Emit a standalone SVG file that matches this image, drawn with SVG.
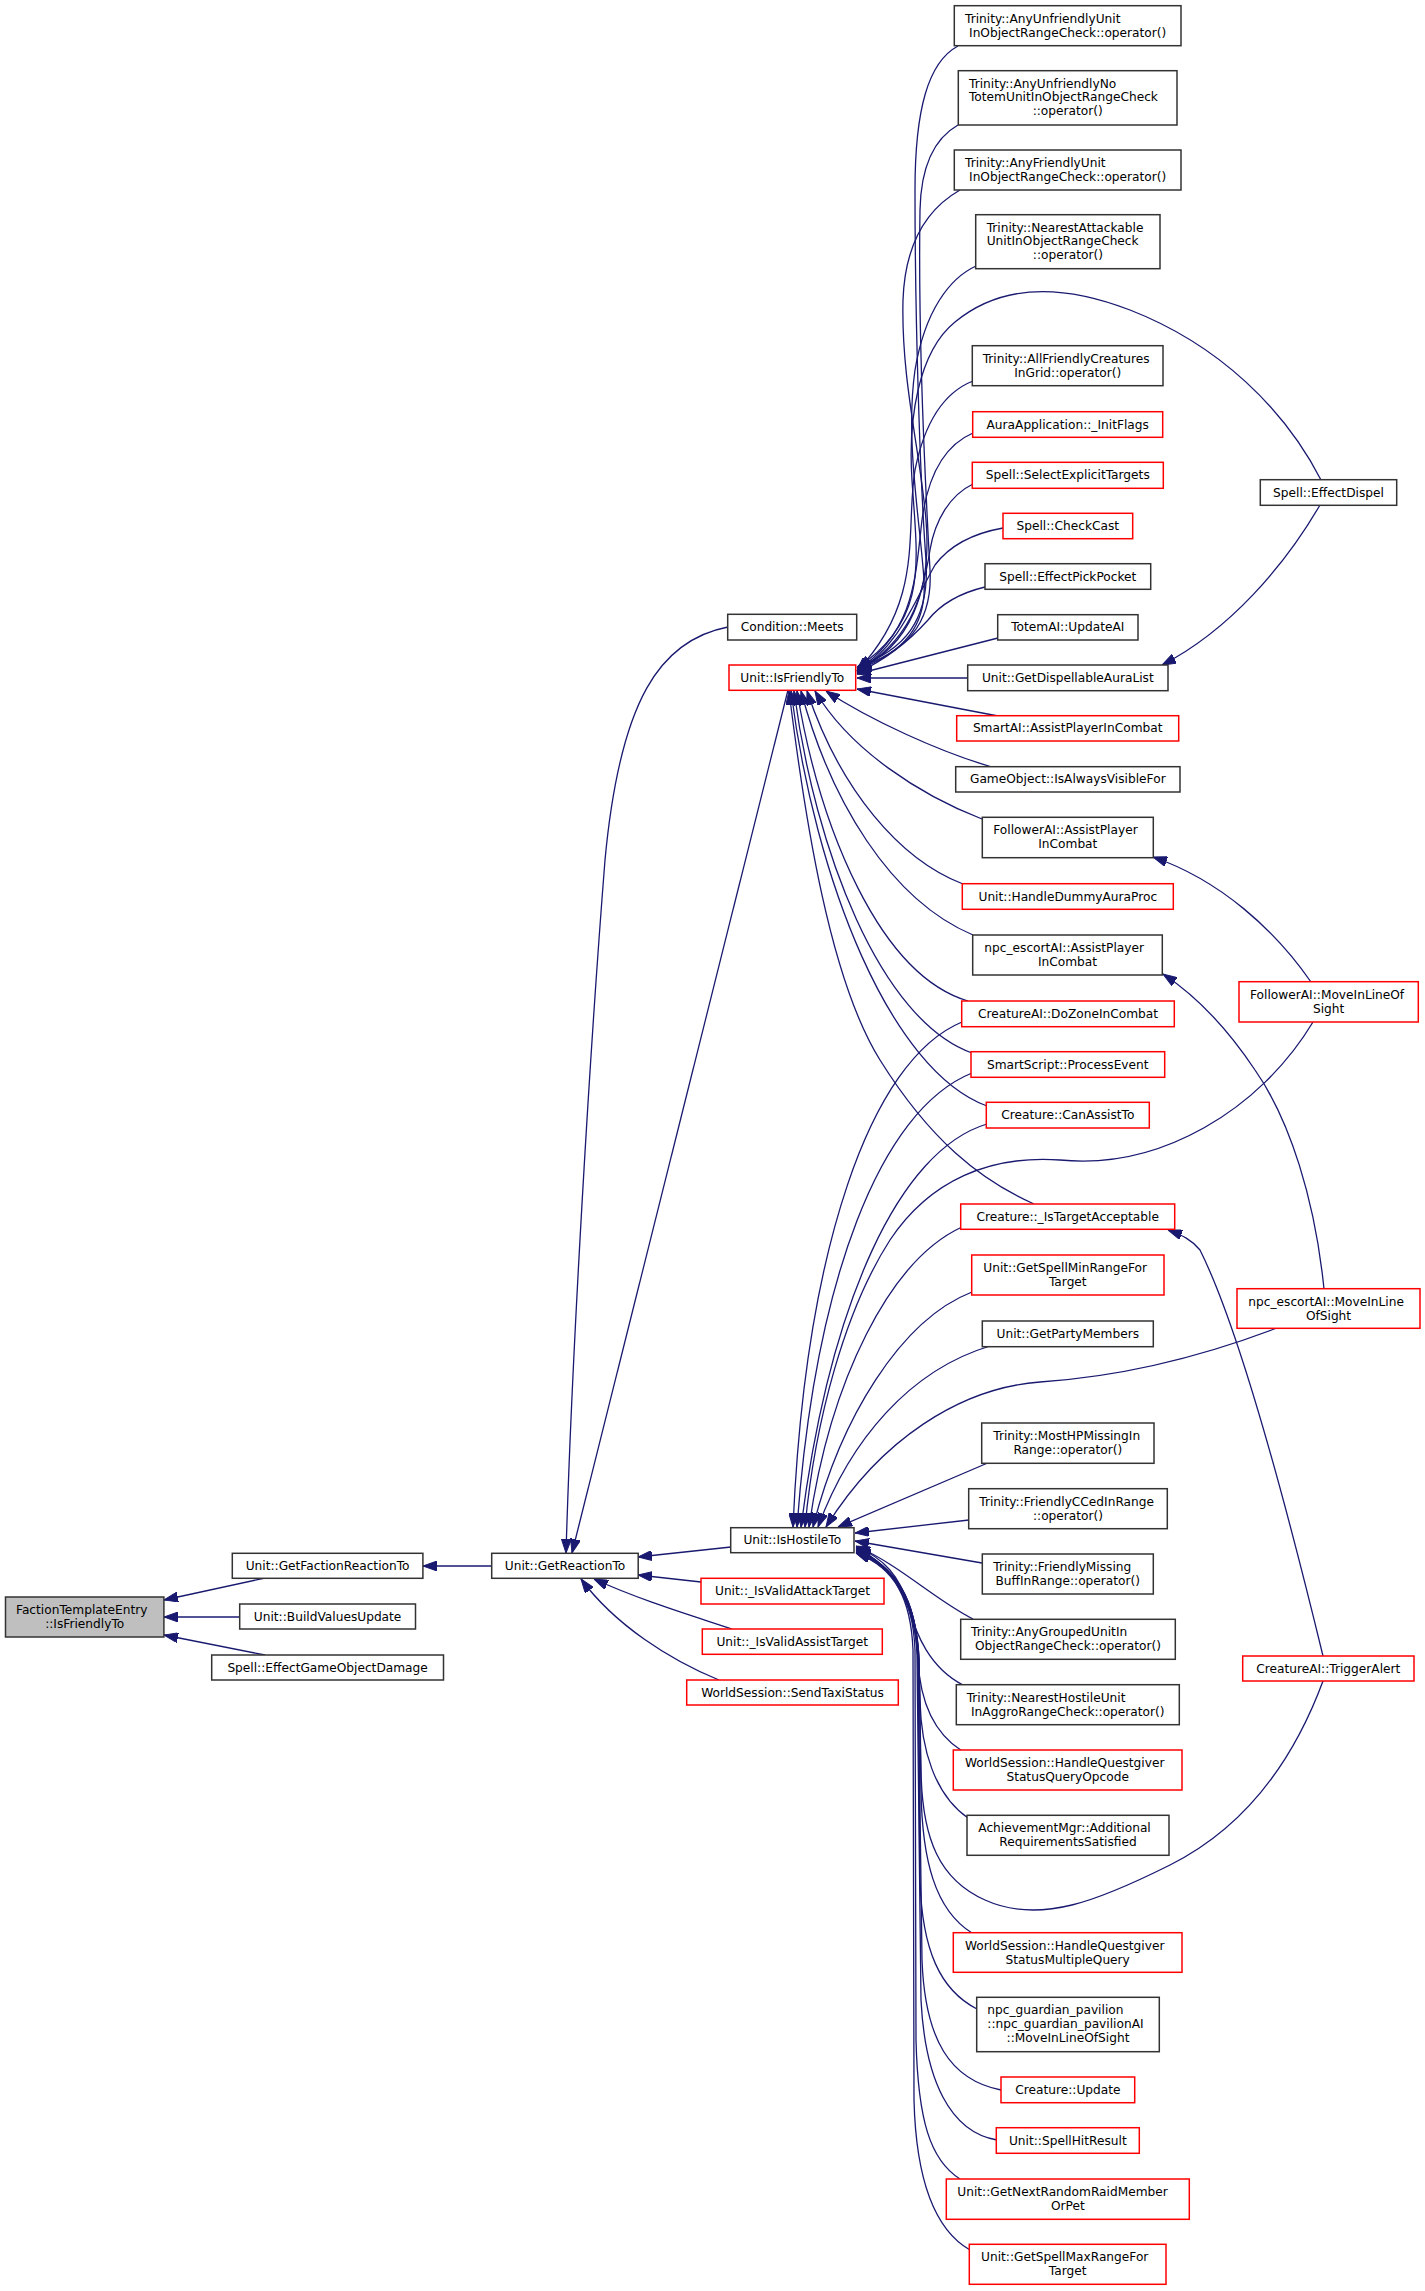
<svg xmlns="http://www.w3.org/2000/svg" width="1425" height="2291" viewBox="0 0 1425 2291">
<defs>
<marker id="ah" markerUnits="userSpaceOnUse" markerWidth="14" markerHeight="10" viewBox="0 0 14 10" refX="14" refY="5" orient="auto">
<path d="M0,0 L14,5 L0,10 z" fill="#191970" stroke="#191970" stroke-width="1"/>
</marker>
</defs>
<style>
rect.n{fill:#fff;stroke:#333;stroke-width:1.5}
rect.r{fill:#fff;stroke:#f00;stroke-width:1.5}
rect.m{fill:#bfbfbf;stroke:#333;stroke-width:1.5}
text{font-family:"DejaVu Sans",sans-serif;font-size:12.2px;fill:#000}
text.c{text-anchor:middle}
#edges path{fill:none;stroke:#191970;stroke-width:1.3;marker-end:url(#ah)}
</style>
<rect x="0" y="0" width="1425" height="2291" fill="#fff"/>
<g id="edges">
<path d="M265,1578 L164,1600"/>
<path d="M240,1617 L164,1617"/>
<path d="M265,1655 L164,1635"/>
<path d="M492,1566 L423,1566"/>
<path d="M731,1547 L638,1557"/>
<path d="M701,1582 L638,1575"/>
<path d="M732,1629 C690,1615 640,1600 594,1579"/>
<path d="M719,1680 C670,1660 615,1625 581,1579"/>
<path d="M728,627 C660,640 620,700 605,860 C590,1050 572,1350 566,1553"/>
<path d="M788,690 L572,1553"/>
<path d="M958,46 C928,62 915,110 915,190 C915,320 920,480 926,560 C930,620 905,650 857,667"/>
<path d="M958,125 C935,138 921,165 920,210 C918,330 925,480 930,570 C933,625 905,652 857,668"/>
<path d="M960,190 C925,210 905,245 903,300 C901,380 920,450 926,520 C932,590 910,648 857,669"/>
<path d="M976,266 C950,278 925,310 915,370 C905,440 920,520 924,580 C927,625 905,652 857,670"/>
<path d="M1321,480 C1285,410 1220,345 1130,310 C1060,283 1000,285 955,322 C918,352 908,420 912,480 C917,560 930,620 857,668"/>
<path d="M973,381 C945,392 925,420 915,470 C905,530 925,600 857,671"/>
<path d="M973,433 C945,445 928,475 922,520 C915,580 915,630 857,671"/>
<path d="M973,484 C950,495 935,520 930,550 C922,600 910,640 857,672"/>
<path d="M1003,528 C975,533 950,545 935,565 C915,600 900,645 857,672"/>
<path d="M985,587 C960,593 940,605 928,620 C910,640 885,660 857,673"/>
<path d="M998,638 L857,674"/>
<path d="M968,678 L857,678"/>
<path d="M998,716 L857,689"/>
<path d="M992,767 C940,752 870,720 826,691"/>
<path d="M982,819 C920,795 850,750 815,691"/>
<path d="M963,884 C900,860 840,790 807,691"/>
<path d="M973,935 C890,900 830,800 801,691"/>
<path d="M968,1001 C880,975 820,830 797,691"/>
<path d="M972,1053 C880,1020 815,850 794,691"/>
<path d="M987,1106 C890,1070 815,880 791,691"/>
<path d="M1034,1204 C980,1180 930,1140 880,1060 C830,980 805,820 789,691"/>
<path d="M1320,505 C1285,565 1230,630 1162,665"/>
<path d="M1311,982 C1275,930 1220,880 1153,857"/>
<path d="M1324,1289 C1315,1200 1290,1120 1255,1070 C1225,1025 1195,995 1163,974"/>
<path d="M1323,1656 C1290,1520 1240,1330 1200,1250 C1192,1240 1182,1235 1168,1230"/>
<path d="M962,1022 C870,1060 805,1250 793,1527"/>
<path d="M972,1073 C880,1110 815,1280 797,1527"/>
<path d="M987,1124 C900,1150 830,1300 801,1527"/>
<path d="M1313,1022 C1260,1110 1160,1170 1060,1160 C990,1155 930,1180 890,1240 C845,1310 815,1420 805,1527"/>
<path d="M962,1227 C890,1260 830,1380 809,1527"/>
<path d="M972,1292 C900,1320 840,1420 813,1527"/>
<path d="M990,1346 C910,1370 850,1440 818,1527"/>
<path d="M1277,1328 C1180,1365 1100,1378 1040,1382 C960,1388 880,1440 826,1527"/>
<path d="M990,1462 L838,1527"/>
<path d="M969,1520 L855,1533"/>
<path d="M982,1563 L855,1541"/>
<path d="M973,1619 C935,1600 900,1565 856,1546"/>
<path d="M963,1685 C930,1668 916,1635 908,1605 C900,1578 885,1558 856,1547"/>
<path d="M962,1751 C932,1732 920,1700 918,1660 C916,1610 895,1565 856,1548"/>
<path d="M968,1818 C935,1795 921,1750 920,1700 L919,1660 C917,1610 896,1565 856,1549"/>
<path d="M1323,1681 C1290,1770 1240,1830 1170,1865 C1100,1900 1040,1925 985,1900 C940,1880 922,1840 921,1770 L919,1660 C917,1605 897,1565 856,1550"/>
<path d="M972,1933 C935,1910 922,1860 921,1790 L919,1660 C917,1605 897,1566 856,1550"/>
<path d="M977,2009 C940,1990 922,1950 920,1880 L918,1655 C916,1600 897,1566 856,1551"/>
<path d="M1001,2090 C950,2080 925,2040 922,1960 L918,1655 C916,1600 897,1567 856,1552"/>
<path d="M997,2140 C950,2132 925,2080 921,2000 L917,1655 C915,1600 897,1567 856,1552"/>
<path d="M960,2179 C930,2160 918,2120 916,2040 L915,1650 C913,1600 897,1568 856,1553"/>
<path d="M970,2250 C935,2230 916,2180 914,2100 L913,1650 C911,1600 896,1568 856,1553"/>
</g>
<g id="n0"><rect class="m" x="5.5" y="1597" width="158.4" height="40"/><text x="16" y="1614">FactionTemplateEntry</text><text class="c" x="84.7" y="1628">::IsFriendlyTo</text></g>
<g id="n1"><rect class="n" x="232.3" y="1553.3" width="190.6" height="25"/><text class="c" x="327.6" y="1570">Unit::GetFactionReactionTo</text></g>
<g id="n2"><rect class="n" x="239.7" y="1604" width="175.8" height="25"/><text class="c" x="327.6" y="1620.7">Unit::BuildValuesUpdate</text></g>
<g id="n3"><rect class="n" x="211.7" y="1655" width="231.8" height="25"/><text class="c" x="327.6" y="1671.7">Spell::EffectGameObjectDamage</text></g>
<g id="n4"><rect class="n" x="491.7" y="1553.3" width="146.5" height="25"/><text class="c" x="565" y="1570">Unit::GetReactionTo</text></g>
<g id="n5"><rect class="n" x="727.7" y="614.3" width="129" height="25.7"/><text class="c" x="792.2" y="631.2">Condition::Meets</text></g>
<g id="n6"><rect class="r" x="729" y="665" width="126.7" height="25.3"/><text class="c" x="792.3" y="681.7">Unit::IsFriendlyTo</text></g>
<g id="n7"><rect class="n" x="730.7" y="1527.7" width="123.3" height="25"/><text class="c" x="792.3" y="1544.3">Unit::IsHostileTo</text></g>
<g id="n8"><rect class="r" x="701" y="1578.3" width="183" height="25.7"/><text class="c" x="792.5" y="1595.2">Unit::_IsValidAttackTarget</text></g>
<g id="n9"><rect class="r" x="702.3" y="1629" width="180" height="25.3"/><text class="c" x="792.3" y="1645.7">Unit::_IsValidAssistTarget</text></g>
<g id="n10"><rect class="r" x="686.7" y="1680" width="211.6" height="25"/><text class="c" x="792.5" y="1696.7">WorldSession::SendTaxiStatus</text></g>
<g id="n11"><rect class="n" x="954.3" y="5.7" width="226.7" height="40"/><text x="965" y="22.7">Trinity::AnyUnfriendlyUnit</text><text class="c" x="1067.7" y="36.7">InObjectRangeCheck::operator()</text></g>
<g id="n12"><rect class="n" x="958.3" y="70.7" width="218.7" height="54.3"/><text x="969" y="87.5">Trinity::AnyUnfriendlyNo</text><text x="969" y="101.3">TotemUnitInObjectRangeCheck</text><text class="c" x="1067.7" y="115.1">::operator()</text></g>
<g id="n13"><rect class="n" x="954.3" y="150" width="226.7" height="40"/><text x="965" y="167">Trinity::AnyFriendlyUnit</text><text class="c" x="1067.7" y="181">InObjectRangeCheck::operator()</text></g>
<g id="n14"><rect class="n" x="975.7" y="214.7" width="184.3" height="54"/><text x="986.7" y="231.5">Trinity::NearestAttackable</text><text x="986.7" y="245.3">UnitInObjectRangeCheck</text><text class="c" x="1067.9" y="259.1">::operator()</text></g>
<g id="n15"><rect class="n" x="972.3" y="345.7" width="190.7" height="40"/><text x="982.7" y="362.7">Trinity::AllFriendlyCreatures</text><text class="c" x="1067.7" y="376.7">InGrid::operator()</text></g>
<g id="n16"><rect class="r" x="972.7" y="411.7" width="190" height="25.6"/><text class="c" x="1067.7" y="428.5">AuraApplication::_InitFlags</text></g>
<g id="n17"><rect class="r" x="972.3" y="462.3" width="191" height="26"/><text class="c" x="1067.8" y="479.3">Spell::SelectExplicitTargets</text></g>
<g id="n18"><rect class="r" x="1003" y="513.3" width="129.7" height="25.4"/><text class="c" x="1067.8" y="530">Spell::CheckCast</text></g>
<g id="n19"><rect class="n" x="985" y="563.7" width="165.7" height="25.6"/><text class="c" x="1067.8" y="580.5">Spell::EffectPickPocket</text></g>
<g id="n20"><rect class="n" x="997.7" y="614.7" width="140.3" height="25.3"/><text class="c" x="1067.8" y="631.3">TotemAI::UpdateAI</text></g>
<g id="n21"><rect class="n" x="967.7" y="665" width="200.3" height="25.7"/><text class="c" x="1067.8" y="681.8">Unit::GetDispellableAuraList</text></g>
<g id="n22"><rect class="r" x="956.7" y="715.7" width="222" height="25.3"/><text class="c" x="1067.7" y="732.3">SmartAI::AssistPlayerInCombat</text></g>
<g id="n23"><rect class="n" x="955.7" y="766.7" width="224.3" height="25.3"/><text class="c" x="1067.8" y="783.3">GameObject::IsAlwaysVisibleFor</text></g>
<g id="n24"><rect class="n" x="982.3" y="817.3" width="171" height="40.4"/><text x="993.3" y="834.3">FollowerAI::AssistPlayer</text><text class="c" x="1067.8" y="848.3">InCombat</text></g>
<g id="n25"><rect class="r" x="962.3" y="883.7" width="211" height="25.6"/><text class="c" x="1067.8" y="900.5">Unit::HandleDummyAuraProc</text></g>
<g id="n26"><rect class="n" x="972.7" y="935" width="189.6" height="40"/><text x="984.3" y="952">npc_escortAI::AssistPlayer</text><text class="c" x="1067.5" y="966">InCombat</text></g>
<g id="n27"><rect class="r" x="961.7" y="1001" width="212.6" height="25.7"/><text class="c" x="1068" y="1017.8">CreatureAI::DoZoneInCombat</text></g>
<g id="n28"><rect class="r" x="971" y="1051.7" width="193.7" height="25.6"/><text class="c" x="1067.8" y="1068.5">SmartScript::ProcessEvent</text></g>
<g id="n29"><rect class="r" x="986.3" y="1102.3" width="163" height="25.7"/><text class="c" x="1067.8" y="1119.2">Creature::CanAssistTo</text></g>
<g id="n30"><rect class="r" x="960.7" y="1204" width="214" height="25.3"/><text class="c" x="1067.7" y="1220.7">Creature::_IsTargetAcceptable</text></g>
<g id="n31"><rect class="r" x="971.7" y="1255" width="192.3" height="40"/><text x="983.3" y="1272">Unit::GetSpellMinRangeFor</text><text class="c" x="1067.8" y="1286">Target</text></g>
<g id="n32"><rect class="n" x="982.3" y="1321" width="171" height="25.7"/><text class="c" x="1067.8" y="1337.8">Unit::GetPartyMembers</text></g>
<g id="n33"><rect class="n" x="981.7" y="1423" width="172.3" height="40.3"/><text x="993.3" y="1440">Trinity::MostHPMissingIn</text><text class="c" x="1067.8" y="1454">Range::operator()</text></g>
<g id="n34"><rect class="n" x="968.7" y="1488.7" width="198.6" height="40"/><text x="979.3" y="1505.7">Trinity::FriendlyCCedInRange</text><text class="c" x="1068" y="1519.7">::operator()</text></g>
<g id="n35"><rect class="n" x="982.3" y="1554" width="171" height="40"/><text x="993.3" y="1571">Trinity::FriendlyMissing</text><text class="c" x="1067.8" y="1585">BuffInRange::operator()</text></g>
<g id="n36"><rect class="n" x="960.7" y="1619.3" width="214.6" height="40"/><text x="971" y="1636.3">Trinity::AnyGroupedUnitIn</text><text class="c" x="1068" y="1650.3">ObjectRangeCheck::operator()</text></g>
<g id="n37"><rect class="n" x="956.3" y="1684.7" width="223" height="40"/><text x="966.7" y="1701.7">Trinity::NearestHostileUnit</text><text class="c" x="1067.8" y="1715.7">InAggroRangeCheck::operator()</text></g>
<g id="n38"><rect class="r" x="953.3" y="1750" width="228.7" height="40"/><text x="965" y="1767">WorldSession::HandleQuestgiver</text><text class="c" x="1067.7" y="1781">StatusQueryOpcode</text></g>
<g id="n39"><rect class="n" x="967" y="1815.3" width="202" height="40"/><text x="978.3" y="1832.3">AchievementMgr::Additional</text><text class="c" x="1068" y="1846.3">RequirementsSatisfied</text></g>
<g id="n40"><rect class="r" x="953.3" y="1932.7" width="228.7" height="39.6"/><text x="965" y="1949.7">WorldSession::HandleQuestgiver</text><text class="c" x="1067.7" y="1963.7">StatusMultipleQuery</text></g>
<g id="n41"><rect class="n" x="976.7" y="1997.3" width="182.6" height="54.4"/><text x="987.3" y="2014.1">npc_guardian_pavilion</text><text x="987.3" y="2027.9">::npc_guardian_pavilionAI</text><text class="c" x="1068" y="2041.7">::MoveInLineOfSight</text></g>
<g id="n42"><rect class="r" x="1001" y="2077" width="133.7" height="25.7"/><text class="c" x="1067.9" y="2093.8">Creature::Update</text></g>
<g id="n43"><rect class="r" x="996.3" y="2127.7" width="143" height="25.6"/><text class="c" x="1067.8" y="2144.5">Unit::SpellHitResult</text></g>
<g id="n44"><rect class="r" x="946.3" y="2179" width="243" height="40.3"/><text x="957.3" y="2196">Unit::GetNextRandomRaidMember</text><text class="c" x="1067.8" y="2210">OrPet</text></g>
<g id="n45"><rect class="r" x="969.3" y="2244.3" width="196.7" height="40"/><text x="981" y="2261.3">Unit::GetSpellMaxRangeFor</text><text class="c" x="1067.7" y="2275.3">Target</text></g>
<g id="n46"><rect class="n" x="1260.3" y="479.7" width="136.4" height="25.6"/><text class="c" x="1328.5" y="496.5">Spell::EffectDispel</text></g>
<g id="n47"><rect class="r" x="1239" y="981.7" width="179.3" height="40.3"/><text x="1250" y="998.7">FollowerAI::MoveInLineOf</text><text class="c" x="1328.7" y="1012.7">Sight</text></g>
<g id="n48"><rect class="r" x="1237" y="1288.7" width="183" height="39.6"/><text x="1248.3" y="1305.7">npc_escortAI::MoveInLine</text><text class="c" x="1328.5" y="1319.7">OfSight</text></g>
<g id="n49"><rect class="r" x="1242.7" y="1656" width="171.3" height="25"/><text class="c" x="1328.3" y="1672.7">CreatureAI::TriggerAlert</text></g>
</svg>
